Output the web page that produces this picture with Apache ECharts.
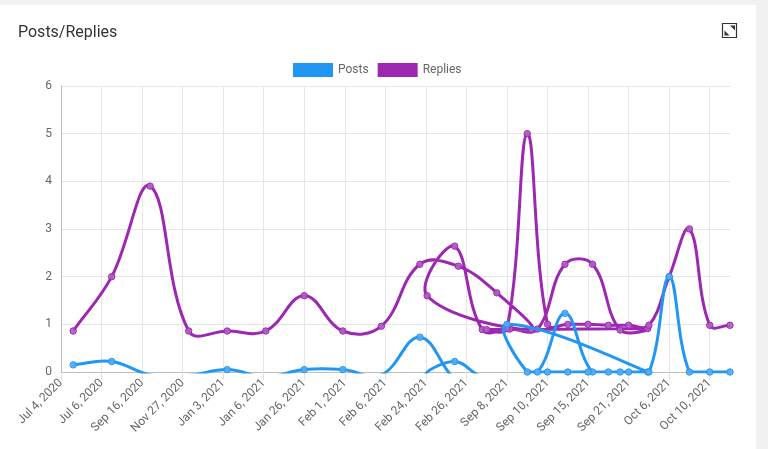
<!DOCTYPE html>
<html>
<head>
<meta charset="utf-8">
<script src="https://cdn.jsdelivr.net/npm/echarts@6/dist/echarts.min.js"></script>
<style>
html,body{margin:0;padding:0;background:#f1f1f1;}
#chart{width:768px;height:449px;}
</style>
</head>
<body>
<div id="chart"></div>
<script>
// Tick labels of the ordinal time axis (one every 2 slots)
const tickLabels = ["Jul 4, 2020","Jul 6, 2020","Sep 16, 2020","Nov 27, 2020","Jan 3, 2021","Jan 6, 2021","Jan 26, 2021","Feb 1, 2021","Feb 6, 2021","Feb 24, 2021","Feb 26, 2021","Sep 8, 2021","Sep 10, 2021","Sep 15, 2021","Sep 21, 2021","Oct 6, 2021","Oct 10, 2021"];

// Data comes in three unsorted runs; x = slot position on the time axis
const slotsA = [0.6, 2.5, 4.4, 6.3, 8.2, 10.1, 12.0, 13.9, 15.8, 17.7, 19.6, 21.5, 23.2];
const slotsB = [18.06, 19.42, 20.78, 22.14, 23.5, 24.86, 26.22, 27.58, 28.94];
const postsSlotsC = [22, 23, 24, 25, 26, 27, 28, 29, 30, 31, 32, 33];
const repliesSlotsC = [21, 22, 23, 24, 25, 26, 27, 28, 29, 30, 31, 32, 33];

const postsA = [0.15, 0.22, -0.06, -0.07, 0.05, -0.1, 0.05, 0.05, -0.06, 0.73, -0.2, -0.3, -0.3];
const postsB = [-0.07, 0.22, -0.1, -0.1, 0, 1.23, 0, 0, 0];
const postsC = [1.0, 0, 0, 0, 0, 0, 0, 0, 2.0, 0, 0, 0];

const repliesA = [0.86, 2.0, 3.9, 0.86, 0.86, 0.86, 1.6, 0.86, 0.96, 2.26, 2.22, 1.66, 0.89];
const repliesB = [1.6, 2.64, 0.89, 0.9, 0.9, 2.26, 2.26, 0.88, 0.91];
const repliesC = [0.89, 0.91, 5.0, 1.0, 1.0, 1.0, 0.98, 0.98, 0.98, 2.0, 3.0, 0.98, 0.98];

const pair = (xs, ys) => xs.map((x, i) => [x, ys[i]]);
const postsData = pair(slotsA.concat(slotsB, postsSlotsC), postsA.concat(postsB, postsC));
const repliesData = pair(slotsA.concat(slotsB, repliesSlotsC), repliesA.concat(repliesB, repliesC));

const BLUE = '#2196F3';
const PURPLE = '#9C27B0';
const FONT = 'Roboto, "Helvetica Neue", Arial, sans-serif';
const TENSION = 0.4;

// Spline through points in data order (tension-based, control points capped to the plot area)
function splinePath(pts, area) {
  const n = pts.length;
  const inArea = (p) => p[0] >= area.x - 0.5 && p[0] <= area.x + area.width + 0.5 && p[1] >= area.y - 0.5 && p[1] <= area.y + area.height + 0.5;
  const cap = (v, lo, hi) => Math.max(Math.min(v, hi), lo);
  const cps = pts.map((cur, i) => {
    const prev = i > 0 ? pts[i - 1] : cur;
    const next = i < n - 1 ? pts[i + 1] : cur;
    const d01 = Math.hypot(cur[0] - prev[0], cur[1] - prev[1]);
    const d12 = Math.hypot(next[0] - cur[0], next[1] - cur[1]);
    let s01 = d01 / (d01 + d12), s12 = d12 / (d01 + d12);
    if (isNaN(s01)) s01 = 0;
    if (isNaN(s12)) s12 = 0;
    const fa = TENSION * s01, fb = TENSION * s12;
    return {
      prev: [cur[0] - fa * (next[0] - prev[0]), cur[1] - fa * (next[1] - prev[1])],
      next: [cur[0] + fb * (next[0] - prev[0]), cur[1] + fb * (next[1] - prev[1])]
    };
  });
  for (let i = 0; i < n; i++) {
    if (!inArea(pts[i])) continue;
    if (i > 0 && inArea(pts[i - 1])) {
      cps[i].prev = [cap(cps[i].prev[0], area.x, area.x + area.width), cap(cps[i].prev[1], area.y, area.y + area.height)];
    }
    if (i < n - 1 && inArea(pts[i + 1])) {
      cps[i].next = [cap(cps[i].next[0], area.x, area.x + area.width), cap(cps[i].next[1], area.y, area.y + area.height)];
    }
  }
  let d = 'M' + pts[0][0] + ' ' + pts[0][1];
  for (let i = 1; i < n; i++) {
    const a = cps[i - 1].next, b = cps[i].prev, p = pts[i];
    d += ' C' + a[0] + ' ' + a[1] + ' ' + b[0] + ' ' + b[1] + ' ' + p[0] + ' ' + p[1];
  }
  return d;
}

function lineSeries(name, data, color, pointFill) {
  return {
    name: name, type: 'custom', coordinateSystem: 'cartesian2d',
    data: data, encode: { x: 0, y: 1 },
    renderItem: function (params, api) {
      const cs = params.coordSys;
      const children = [];
      if (params.dataIndex === 0) {
        const pts = data.map((d) => api.coord(d));
        children.push({
          type: 'path',
          shape: { pathData: splinePath(pts, cs) },
          style: { fill: null, stroke: color, lineWidth: 3, lineJoin: 'round' },
          clipPath: { type: 'rect', shape: { x: cs.x - 1.5, y: cs.y - 1.5, width: cs.width + 3, height: cs.height + 3 } }
        });
      }
      const v = api.value(1);
      if (v >= 0) {
        const p = api.coord([api.value(0), v]);
        children.push({ type: 'circle', shape: { cx: p[0], cy: p[1], r: 3.2 }, style: { fill: pointFill, stroke: color, lineWidth: 1 } });
      }
      return { type: 'group', children: children };
    }
  };
}

const chart = echarts.init(document.getElementById('chart'));
const gridColors = [];
for (let i = 0; i < 17; i++) gridColors.push('#e6e6e6');
gridColors.push('rgba(0,0,0,0)');
const tickValues = tickLabels.map((_, i) => i * 2);

chart.setOption({
  backgroundColor: '#f1f1f1',
  animation: false,
  textStyle: { fontFamily: FONT },
  graphic: [
    { type: 'rect', z: -100, shape: { x: 0, y: 5, width: 756, height: 444 }, style: { fill: '#ffffff' } },
    { type: 'text', left: 18, top: 25, style: { text: 'Posts/Replies', font: '16px ' + FONT, fill: '#333333' } },
    { type: 'rect', shape: { x: 722.5, y: 23.5, width: 14, height: 14 }, style: { fill: 'none', stroke: '#333', lineWidth: 1.2 } },
    { type: 'polygon', shape: { points: [[730, 25.5], [735, 25.5], [735, 30.5]] }, style: { fill: '#333' } },
    { type: 'polygon', shape: { points: [[724.5, 30.5], [724.5, 35.5], [729.5, 35.5]] }, style: { fill: '#333' } }
  ],
  legend: {
    left: 288, top: 58,
    itemWidth: 40, itemHeight: 14, itemGap: 9,
    icon: 'rect',
    textStyle: { color: '#666', fontSize: 12, fontFamily: FONT },
    data: [
      { name: 'Posts', itemStyle: { color: BLUE } },
      { name: 'Replies', itemStyle: { color: PURPLE } }
    ]
  },
  grid: { left: 61, right: 38, top: 86, bottom: 77 },
  xAxis: {
    type: 'value', min: 0, max: 33, interval: 2,
    axisLine: { show: true, lineStyle: { color: '#bdbdbd' } },
    axisTick: { show: true, length: 8, lineStyle: { color: '#e0e0e0' }, customValues: tickValues },
    splitLine: { show: true, lineStyle: { color: gridColors } },
    axisLabel: {
      rotate: 45, margin: 9, color: '#666', fontSize: 12, fontFamily: FONT,
      customValues: tickValues,
      formatter: (v) => (v % 2 === 0 && tickLabels[v / 2]) ? tickLabels[v / 2] : ''
    }
  },
  yAxis: {
    type: 'value', min: 0, max: 6, interval: 1,
    axisLine: { show: true, lineStyle: { color: '#bdbdbd' } },
    axisTick: { show: false },
    splitLine: { show: true, lineStyle: { color: '#e6e6e6' } },
    axisLabel: { color: '#666', fontSize: 12, margin: 9, fontFamily: FONT }
  },
  series: [
    lineSeries('Replies', repliesData, PURPLE, 'rgba(176,96,196,0.9)'),
    lineSeries('Posts', postsData, BLUE, 'rgba(90,170,240,0.9)')
  ]
});
</script>
</body>
</html>
